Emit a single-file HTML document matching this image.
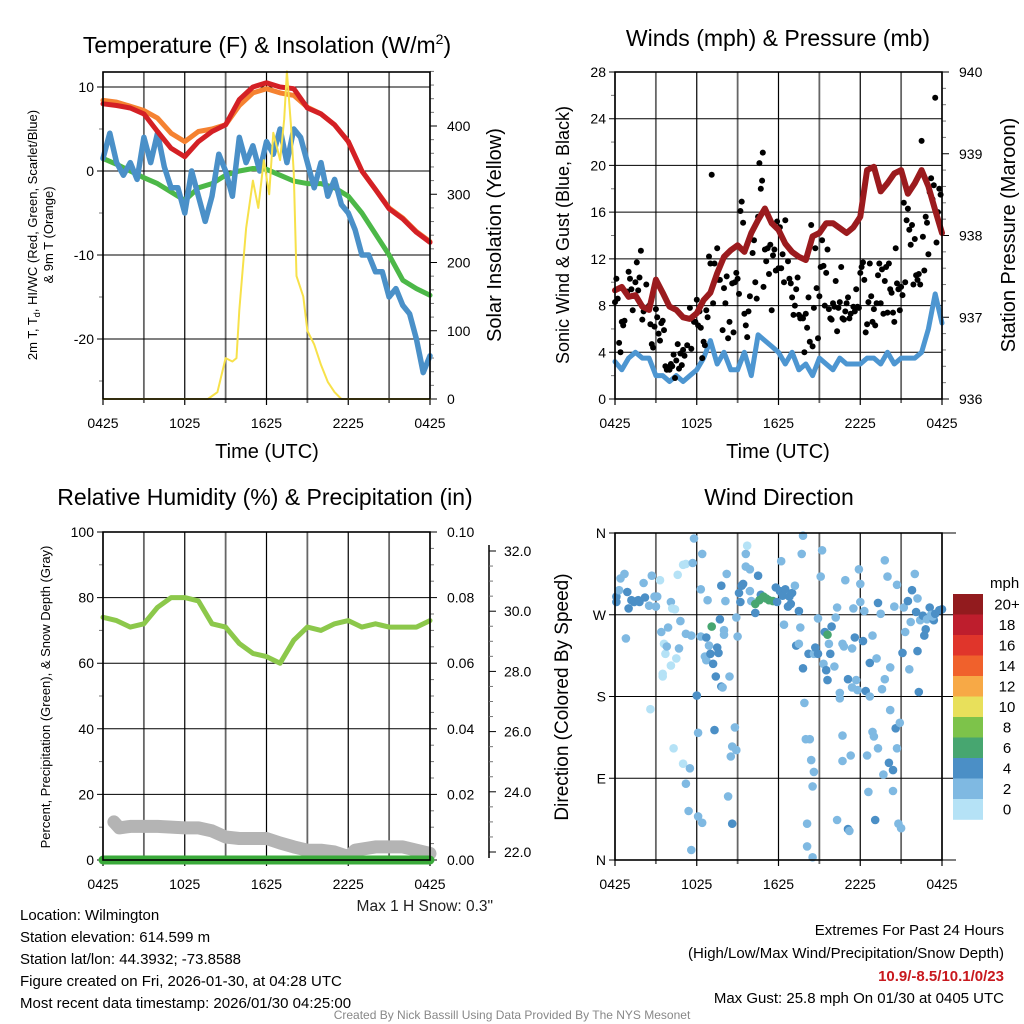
<!DOCTYPE html>
<html><head><meta charset="utf-8">
<style>
html,body{margin:0;padding:0;background:#fff;}
svg{display:block;font-family:"Liberation Sans",sans-serif;}
</style></head>
<body>
<svg id="chart" width="1024" height="1024" viewBox="0 0 1024 1024" xmlns="http://www.w3.org/2000/svg">
<rect x="0" y="0" width="1024" height="1024" fill="#fff"/>
<g id="g1"></g>
<g id="g2"></g>
<g id="g3"></g>
<g id="g4"></g>
<text x="267" y="53" font-size="23" text-anchor="middle">Temperature (F) &amp; Insolation (W/m<tspan dy="-9" font-size="14">2</tspan><tspan dy="9">)</tspan></text>
<text x="778" y="46" font-size="23" text-anchor="middle">Winds (mph) &amp; Pressure (mb)</text>
<text x="265" y="505" font-size="23" text-anchor="middle">Relative Humidity (%) &amp; Precipitation (in)</text>
<text x="779" y="505" font-size="23" text-anchor="middle">Wind Direction</text>
<text x="267" y="458" font-size="20" text-anchor="middle">Time (UTC)</text>
<text x="778" y="458" font-size="20" text-anchor="middle">Time (UTC)</text>
<text transform="translate(37,235) rotate(-90)" font-size="13" text-anchor="middle">2m T, T<tspan font-size="9" dy="3">d</tspan><tspan dy="-3">, HI/WC (Red, Green, Scarlet/Blue)</tspan></text>
<text transform="translate(53,235) rotate(-90)" font-size="13" text-anchor="middle">&amp; 9m T (Orange)</text>
<text transform="translate(501,235) rotate(-90)" font-size="20" text-anchor="middle">Solar Insolation (Yellow)</text>
<text transform="translate(569,235) rotate(-90)" font-size="18" text-anchor="middle">Sonic Wind &amp; Gust (Blue, Black)</text>
<text transform="translate(1015,235) rotate(-90)" font-size="20" text-anchor="middle">Station Pressure (Maroon)</text>
<text transform="translate(50,697) rotate(-90)" font-size="13" text-anchor="middle">Percent, Precipitation (Green), &amp; Snow Depth (Gray)</text>
<text transform="translate(568,697) rotate(-90)" font-size="19" text-anchor="middle">Direction (Colored By Speed)</text>
<text x="493" y="911" font-size="15.5" text-anchor="end" fill="#222">Max 1 H Snow: 0.3"</text>
<g font-size="15" fill="#000">
<text x="20" y="920">Location: Wilmington</text>
<text x="20" y="942">Station elevation: 614.599 m</text>
<text x="20" y="964">Station lat/lon: 44.3932; -73.8588</text>
<text x="20" y="986">Figure created on Fri, 2026-01-30, at 04:28 UTC</text>
<text x="20" y="1008">Most recent data timestamp: 2026/01/30 04:25:00</text>
</g>
<g font-size="15" text-anchor="end">
<text x="1004" y="935">Extremes For Past 24 Hours</text>
<text x="1004" y="958">(High/Low/Max Wind/Precipitation/Snow Depth)</text>
<text x="1004" y="981" fill="#c8191e" font-weight="bold">10.9/-8.5/10.1/0/23</text>
<text x="1004" y="1003">Max Gust: 25.8 mph On 01/30 at 0405 UTC</text>
</g>
<text x="512" y="1019" font-size="12" fill="#888" text-anchor="middle">Created By Nick Bassill Using Data Provided By The NYS Mesonet</text>
</svg>
<script>
// ---------- DATA ----------
const xLabels = ["0425","1025","1625","2225","0425"];
const hourT = [0,1,2,3,4,5,6,7,8,9,10,11,12,13,14,15,16,17,18,19,20,21,22,23,24];
const tempRed = [8.0,7.8,7.5,6.8,4.7,2.7,1.7,3.5,4.7,5.5,8.5,10.0,10.5,10.0,9.8,7.5,6.8,5.5,3.5,0.0,-2.2,-4.5,-5.7,-7.3,-8.5];
const tempOrange = [8.4,8.2,7.7,7.2,6.3,4.5,3.5,4.7,5.0,5.5,7.8,9.3,9.8,9.3,9.0,7.6,6.8,5.5,3.5,0.0,-2.2,-4.4,-5.6,-7.2,-8.4];
const tempGreen = [1.5,0.8,0,-0.8,-1.5,-2.5,-3.5,-2,-1.5,-0.5,0,0.3,0.2,-0.5,-1.2,-1.5,-1.5,-2,-3,-5,-7.5,-10,-13,-14,-14.8];
const halfT = [0,0.5,1,1.5,2,2.5,3,3.5,4,4.5,5,5.5,6,6.5,7,7.5,8,8.5,9,9.5,10,10.5,11,11.5,12,12.5,13,13.5,14,14.5,15,15.5,16,16.5,17,17.5,18,18.5,19,19.5,20,20.5,21,21.5,22,22.5,23,23.5,24];
const tempBlue = [1.5,4.5,1,-0.5,1,-1,4,1,4.5,0.5,-2,-2,-5,0,-3,-6,-3,2,0,-3,4,1,3,0,3.5,2,5,1,5,4,1,-2,1,-3,-1,-4,-5,-7,-10,-10,-12,-12,-15,-14,-16,-17,-20,-24,-22];
const solarT = [0,7.7,8.4,9,9.5,9.8,10,10.5,11,11.4,11.8,12.2,12.5,13,13.3,13.5,13.8,14,14.2,14.7,15,15.5,16,16.5,17,17.5,24];
const solarV = [0,0,10,60,55,60,130,250,320,280,350,300,390,350,410,480,400,330,180,150,100,80,50,25,10,0,0];
const windBlue = [3.2,2.5,3.5,4,3.5,3.5,2,2,1.5,2,1.5,2,2.5,3.5,5,3,4,2.5,2.5,4,2,5.5,5,4.5,4,3,4,2.5,3,2,3.5,3,2.5,3.5,3,3,3,3.5,3.5,3,4,3,3.5,3.5,3.5,4,6,9,6.5];
const pressure = [937.33,937.37,937.25,937.27,937.13,937.09,937.46,937.3,937.13,937.09,937.0,936.98,937.05,937.21,937.3,937.54,937.74,937.82,937.88,937.8,938.03,938.19,938.33,938.15,938.07,937.9,937.8,937.74,937.7,937.99,938.03,938.15,938.15,938.09,938.03,938.1,938.23,938.8,938.84,938.54,938.64,938.76,938.8,938.51,938.64,938.8,938.6,938.31,938.03];
const gustT = [0,0.1,0.2,0.3,0.4,0.5,0.6,0.7,0.9,1.0,1.1,1.2,1.3,1.5,1.6,1.7,1.8,1.9,2.0,2.1,2.3,2.5,2.6,2.7,2.8,2.9,3.0,3.1,3.2,3.3,3.4,3.5,3.6,3.7,3.8,3.9,4.0,4.1,4.2,4.3,4.4,4.5,4.6,4.7,4.8,4.9,5.0,5.1,5.3,5.5,5.6,5.8,5.9,6.0,6.1,6.2,6.3,6.4,6.5,6.6,6.7,6.8,6.9,7.0,7.1,7.2,7.3,7.5,7.6,7.7,7.9,8.0,8.1,8.2,8.3,8.4,8.6,8.7,8.8,8.9,9.0,9.1,9.2,9.3,9.4,9.5,9.6,9.7,9.8,9.9,10.1,10.2,10.3,10.4,10.5,10.6,10.7,10.8,10.85,10.9,11.0,11.1,11.2,11.3,11.4,11.5,11.6,11.7,11.8,11.9,12.0,12.1,12.2,12.3,12.4,12.5,12.7,12.8,12.9,13.0,13.1,13.2,13.3,13.4,13.5,13.6,13.7,13.8,13.9,14.0,14.1,14.2,14.3,14.4,14.5,14.6,14.7,14.8,14.9,15.0,15.1,15.2,15.3,15.4,15.5,15.6,15.7,15.8,15.9,16.0,16.1,16.2,16.3,16.4,16.5,16.6,16.7,16.8,16.9,17.0,17.1,17.2,17.3,17.5,17.6,17.7,17.8,17.9,18.0,18.1,18.2,18.3,18.4,18.5,18.6,18.7,18.8,18.9,19.0,19.1,19.2,19.3,19.4,19.5,19.6,19.7,19.8,19.9,20.0,20.1,20.2,20.3,20.4,20.5,20.6,20.7,20.8,20.9,21.0,21.1,21.2,21.3,21.4,21.5,21.6,21.7,21.8,21.9,22.0,22.1,22.2,22.3,22.4,22.5,22.6,22.7,22.8,22.9,23.0,23.1,23.2,23.3,23.4,23.5,23.6,23.7,23.8,23.9,24.0];
const gustV = [8.3,10.3,8.6,4.8,4,6.6,6.3,6.7,9.2,10.9,10.3,9.4,7.6,10,11.7,9.3,10.4,12.7,6.8,7.5,9.8,8,6.4,4.7,4.4,6.2,7.7,7,5.6,5,6.5,6.7,5.9,2.8,2.5,2.7,2.5,3,2.8,3.8,1.8,3.3,4.7,2.6,3.9,2.9,4.2,3.7,4.6,7.8,4.3,6.6,6.6,8.5,6.3,7.5,6.1,3.5,4.9,4.6,7.6,7,12.2,11.6,19.2,8.2,11.6,12.9,10.2,10.2,5.9,9.5,8.2,10.5,5.2,6.6,9.9,5.7,10,10.8,10.3,9,16.1,16.9,15.1,7.3,6.3,5.3,7.5,8.8,12.5,13.6,10,8.6,15.6,20.2,18,18.7,21.1,9.6,12.8,11.8,12.9,10.7,13.2,7.6,12.3,12.8,11,15.2,11.2,14.7,11.2,12.4,10,15.3,11.8,10.3,9.9,8.7,7.2,8,9.4,10.4,7.2,6.9,7,6.9,4,7.3,6.1,8.7,4.9,14.9,4.5,7.8,12.9,9.5,5.2,8.8,11.3,13.6,11.4,8,10.8,12.8,7.7,6.9,6.8,8.2,7.9,10.1,5.8,7.8,8.3,11.3,6.9,6.8,7.5,8.2,8.7,6.9,7.3,7.9,7.5,9.4,7.9,7.8,10.8,11.3,11.7,10.2,5.7,6.4,8.3,11.6,8.8,6.6,7.7,6.3,8.2,10.6,11.6,8.2,11.1,7.3,10.1,11.3,7.4,11.6,9.4,9.1,7.4,6.6,12.9,9.9,9.4,7.6,9.6,8.9,16.8,10,15.3,16.3,14.5,13.2,14.9,9.8,13.7,10.6,10.2,10.7,9.8,22.1,13.9,11,15.6,15.1,12.4,17.7,18.9,17.1,18.3,25.8,13.4,16,18,17.5];
const rhV = [74,73,71,72,77,80,80,79,72,71,66,63,62,60,67,71,70,72,73,71,72,71,71,71,73];
const snowT = [0.8,1.2,2,4,6,7,8,9,10,12,13,14,15,16,17,18,18.5,20,22,23,24];
const snowV = [23.0,22.8,22.85,22.85,22.8,22.8,22.7,22.5,22.45,22.45,22.3,22.17,22.06,22.06,22.0,21.85,22.06,22.17,22.17,22.06,21.95];
const precipT = [0,24];
const precipV = [0,0];
const dirT = [0.1,0.1,0.3,0.4,0.7,0.9,1.0,0.8,1.2,1.4,1.7,1.8,2.1,2.2,2.5,2.7,2.9,3.0,3.1,3.3,3.4,3.6,3.7,3.8,3.9,4.1,4.2,4.4,4.5,4.6,4.7,4.8,5.0,5.2,5.2,5.6,5.7,5.8,3.5,3.5,2.6,4.3,4.1,5.0,5.2,5.5,5.4,5.6,6.0,6.1,6.1,6.4,6.3,6.4,6.3,6.6,6.7,6.7,6.8,6.9,7.0,7.1,7.2,7.3,7.4,7.5,7.6,7.7,7.8,7.8,7.9,8.0,8.0,8.1,8.2,8.3,8.4,8.5,8.6,8.6,8.8,8.9,8.9,9.0,9.1,9.2,9.3,9.4,9.6,9.6,9.7,9.9,9.9,10.0,10.3,10.5,10.7,10.3,10.6,10.9,11.1,11.3,11.6,11.8,11.9,12.1,12.2,12.3,12.4,12.5,12.7,12.8,12.9,13.0,13.2,13.3,13.5,13.5,13.6,13.7,13.8,13.8,13.9,14.0,14.1,14.2,14.3,14.4,14.5,14.6,14.1,14.5,14.6,14.7,14.9,14.9,15.1,15.2,15.3,15.4,15.5,15.6,15.6,15.7,15.8,15.9,16.1,16.2,16.3,16.3,16.5,16.5,16.7,16.7,16.7,16.8,16.9,17.1,17.1,17.2,17.3,17.4,17.4,17.5,17.6,17.7,17.8,17.9,18.0,18.0,18.2,18.3,18.4,18.5,18.6,18.7,18.7,18.9,18.9,19.0,19.1,19.2,19.3,19.3,19.5,19.6,19.7,19.8,19.8,20.0,20.1,20.2,20.2,20.4,20.4,20.5,20.6,20.7,20.7,20.8,20.9,21.0,21.1,21.2,21.3,21.5,21.6,21.7,21.8,22.0,22.1,22.2,22.2,22.3,22.4,22.6,22.7,22.8,22.9,23.1,23.2,23.4,23.3,23.5,23.8,24.0];
const dirV = [284,290,297,310,315,295,277,244,286,284,286,284,305,289,280,313,290,279,290,308,251,238,227,235,256,284,277,276,222,314,233,263,325,326,249,247,327,354,205,202,166,123,214,106,84,101,54,11,181,140,48,41,298,337,246,224,220,245,286,236,227,257,216,143,202,234,228,265,191,302,190,253,248,285,315,70,202,114,125,40,146,121,267,246,294,284,302,304,337,323,346,320,296,285,272,313,292,282,286,290,288,286,285,300,284,296,329,291,259,298,279,290,282,294,302,236,274,238,256,337,211,357,173,133,40,227,133,110,81,97,15,3,227,234,227,266,312,341,216,251,209,248,198,238,227,257,213,267,44,278,184,178,137,109,238,235,308,199,34,32,115,233,190,277,245,198,187,320,284,304,241,274,186,115,75,217,180,247,141,136,44,222,123,283,271,188,94,330,199,312,107,212,165,99,76,279,145,123,303,40,151,35,228,278,251,285,210,262,297,315,273,288,230,185,264,269,247,254,265,278,270,264,268,271,275,276];
const dirS = [5,5,3,3,3,5,5,3,5,5,5,5,3,5,3,3,3,3,3,1,3,1,1,3,3,3,1,1,1,1,3,3,1,1,3,3,3,3,1,1,1,1,1,1,3,3,3,3,5,3,3,3,3,3,3,3,3,5,3,3,5,7,5,5,5,5,5,5,5,5,3,3,3,3,3,3,3,3,3,5,3,3,3,3,5,5,5,5,3,3,1,3,3,3,5,5,5,7,7,7,7,7,7,5,5,5,3,5,3,5,5,5,5,5,3,5,5,3,3,3,5,3,3,3,3,5,3,3,3,3,3,3,3,5,5,3,3,3,3,5,5,7,5,3,5,5,3,3,3,3,3,3,3,3,3,3,3,5,5,3,3,3,3,3,5,3,3,3,3,3,5,3,5,3,3,5,3,3,3,3,5,3,3,5,3,3,3,3,3,3,5,3,3,5,3,3,5,3,3,3,3,3,5,3,3,5,3,3,5,3,5,3,5,5,3,5,5,5,3,5,3,5,3,5,5,5,7,5,5,5,7,7,7,11,7,7];
const cbLabels = ["20+","18","16","14","12","10","8","6","4","2","0"];
const cbColors = ["#921b1e","#be1e2d","#e0352b","#f0612c","#f7a946","#e8e05b","#7dc34a","#47a670","#4b8fc6","#7fb9e2","#b5e2f6"];

// ---------- HELPERS ----------
const NS = "http://www.w3.org/2000/svg";
function mk(tag, attrs, parent){ const e=document.createElementNS(NS,tag); for(const k in attrs) e.setAttribute(k,attrs[k]); parent.appendChild(e); return e; }
function linePath(xs, ys, fx, fy){ let d=""; const n=Math.min(xs.length,ys.length); for(let i=0;i<n;i++){ d+=(i?"L":"M")+fx(xs[i]).toFixed(1)+","+fy(ys[i]).toFixed(1);} return d; }
function scale(d0,d1,r0,r1){ return v=>r0+(v-d0)*(r1-r0)/(d1-d0); }

function frame(g, x0, x1, y0, y1, name){
  const fx = scale(0,24,x0,x1);
  for(let h=0; h<=24; h+=3){
    const major = h%6===0;
    const l = mk('line',{x1:fx(h),x2:fx(h),y1:y0,y2:y1+(major?6:4),stroke:major?"#000":"#666","stroke-width":major?1.2:1.8},g);
    
    
  }
  xLabels.forEach((lab,i)=>{
    const t = mk('text',{x:fx(i*6),y:y1+29,"font-size":14,"text-anchor":"middle"},g);
    t.textContent = lab;
    
    
  });
  return fx;
}
function hgrid(g, fy, vals, x0, x1, labelsFn, name, side){
  vals.forEach(v=>{
    const y=fy(v);
    const l = mk('line',{x1:x0-6,x2:x1+ (side==='r'?6:0),y1:y,y2:y,stroke:"#000","stroke-width":1},g);
    
    
    if(labelsFn){
      const t = mk('text',{x:x0-9,y:y+5,"font-size":14,"text-anchor":"end"},g);
      t.textContent = labelsFn(v);
      
      
    }
  });
}
function rightAxis(g, fy, vals, x, fmt, minorVals, name, lx){
  vals.forEach(v=>{
    const tk = mk('line',{x1:x,x2:x+7,y1:fy(v),y2:fy(v),stroke:"#000","stroke-width":1},g);
    
    
    const t = mk('text',{x:lx,y:fy(v)+5,"font-size":14,"text-anchor":"start"},g);
    t.textContent = fmt(v);
    
    
  });
  minorVals.forEach(v=>{
    const tk = mk('line',{x1:x,x2:x+4,y1:fy(v),y2:fy(v),stroke:"#777","stroke-width":1},g);
    
    
  });
}
function border(g,x0,x1,y0,y1,name){
  const r = mk('rect',{x:x0,y:y0,width:x1-x0,height:y1-y0,fill:"none",stroke:"#000","stroke-width":1.6},g);
  
  
}
function series(g, xs, ys, fx, fy, color, w, name){
  const p = mk('path',{d:linePath(xs,ys,fx,fy),fill:"none",stroke:color,"stroke-width":w,"stroke-linejoin":"round","stroke-linecap":"round"},g);
  
  
  return p;
}
function range(a,b,s){ const r=[]; for(let v=a; v<=b+1e-9; v+=s) r.push(+v.toFixed(3)); return r; }

// ---------- PANEL 1 ----------
(function(){
  const g=document.getElementById('g1');
  const X0=103,X1=430,Y0=72,Y1=399;
  const fx=frame(g,X0,X1,Y0,Y1,'temp');
  const fy=scale(0,10,171,87);
  const fs=scale(0,400,399,126);
  hgrid(g,fy,[10,0,-10,-20],X0,X1,v=>String(v),'temp');
  [-25,-15,-5,5].forEach(v=>{ const tk=mk('line',{x1:X0-4,x2:X0,y1:fy(v),y2:fy(v),stroke:"#777"},g);   });
  rightAxis(g,fs,[0,100,200,300,400],X1,v=>String(v),range(20,480,20).filter(v=>v%100),'solar-axis',X1+17);
  series(g,hourT,tempGreen,fx,fy,"#4cb848",5,'dewpoint-line');
  series(g,halfT,tempBlue,fx,fy,"#4a90c8",5.5,'windchill-line');
  series(g,hourT,tempOrange,fx,fy,"#f58231",5,'temp-9m-line');
  series(g,hourT,tempRed,fx,fy,"#d42025",5,'temp-2m-line');
  series(g,solarT,solarV,fx,fs,"#f7e14a",2,'solar-line');
  border(g,X0,X1,Y0,Y1,'temp');
})();

// ---------- PANEL 2 ----------
(function(){
  const g=document.getElementById('g2');
  const X0=615,X1=942,Y0=72,Y1=399;
  const fx=frame(g,X0,X1,Y0,Y1,'wind');
  const fy=scale(0,28,399,72);
  const fp=scale(936,940,399,72);
  hgrid(g,fy,[0,4,8,12,16,20,24,28],X0,X1,v=>String(v),'wind');
  [2,6,10,14,18,22,26].forEach(v=>{ const tk=mk('line',{x1:X0-4,x2:X0,y1:fy(v),y2:fy(v),stroke:"#777"},g);   });
  rightAxis(g,fp,[936,937,938,939,940],X1,v=>String(v),range(936.2,939.8,0.2).filter(v=>Math.abs(v-Math.round(v))>0.05),'pressure-axis',X1+17);
  series(g,halfT,windBlue,fx,fy,"#4d96d1",5,'sonic-wind-line');
  const n=Math.min(gustT.length,gustV.length);
  for(let i=0;i<n;i++){
    const c=mk('circle',{cx:fx(gustT[i]).toFixed(1),cy:fy(gustV[i]).toFixed(1),r:3,fill:"#000"},g);
    
    
  }
  series(g,halfT,pressure,fx,fp,"#9b1b1e",6,'pressure-line');
  border(g,X0,X1,Y0,Y1,'wind');
})();

// ---------- PANEL 3 ----------
(function(){
  const g=document.getElementById('g3');
  const X0=103,X1=430,Y0=532,Y1=860;
  const fx=frame(g,X0,X1,Y0,Y1,'rh');
  const fy=scale(0,100,860,532);
  const fpr=scale(0,0.1,860,532);
  const fsn=scale(22,32,852,551);
  hgrid(g,fy,[0,20,40,60,80,100],X0,X1,v=>String(v),'rh');
  [10,30,50,70,90].forEach(v=>{ const tk=mk('line',{x1:X0-4,x2:X0,y1:fy(v),y2:fy(v),stroke:"#777"},g);   });
  rightAxis(g,fpr,[0,0.02,0.04,0.06,0.08,0.1],X1,v=>v.toFixed(2),range(0.005,0.095,0.005).filter(v=>Math.abs(v*50-Math.round(v*50))>0.01),'precip-axis',X1+17);
  const ax=mk('line',{x1:489,x2:489,y1:545,y2:858,stroke:"#000","stroke-width":1.5},g);
  
  
  rightAxis(g,fsn,[22,24,26,28,30,32],489,v=>v.toFixed(1),range(22.5,31.5,0.5).filter(v=>v%2),'snow-axis',504);
  series(g,snowT,snowV,fx,fsn,"#b4b4b4",13,'snow-depth-line');
  series(g,precipT,precipV,fx,fpr,"#3aaa3a",9,'precip-line');
  series(g,hourT,rhV,fx,fy,"#8cc84b",5,'rh-line');
  border(g,X0,X1,Y0,Y1,'rh');
})();

// ---------- PANEL 4 ----------
(function(){
  const g=document.getElementById('g4');
  const X0=615,X1=942,Y0=533,Y1=860;
  const fx=frame(g,X0,X1,Y0,Y1,'dir');
  const fy=scale(0,360,860,533);
  const dirLabels={0:"N",90:"E",180:"S",270:"W",360:"N"};
  hgrid(g,fy,[0,90,180,270,360],X0,X1+8,v=>dirLabels[v],'dir','r');
  function col(s){ let i=Math.min(10,Math.floor(s/2)); return cbColors[10-i]; }
  const n=Math.min(dirT.length,dirV.length);
  for(let i=0;i<n;i++){
    const s = dirS[i]===undefined?3:dirS[i];
    const c=mk('circle',{cx:fx(dirT[i]).toFixed(1),cy:fy(dirV[i]).toFixed(1),r:4.3,fill:col(s)},g);
    
    
  }
  border(g,X0,X1,Y0,Y1,'dir');
  const lg=mk('g',{},g);
  
  
  const tt=mk('text',{x:990,y:588,"font-size":15},lg);
  tt.textContent="mph";
  
  
  const bh=20.5;
  cbColors.forEach((c,i)=>{
    const r=mk('rect',{x:953,y:594+i*bh,width:30,height:bh+0.3,fill:c},lg);
    
    
    const t=mk('text',{x:1007,y:594+i*bh+bh/2+5,"font-size":15,"text-anchor":"middle"},lg);
    t.textContent=cbLabels[i];
    
    
  });
})();
</script>
</body></html>
